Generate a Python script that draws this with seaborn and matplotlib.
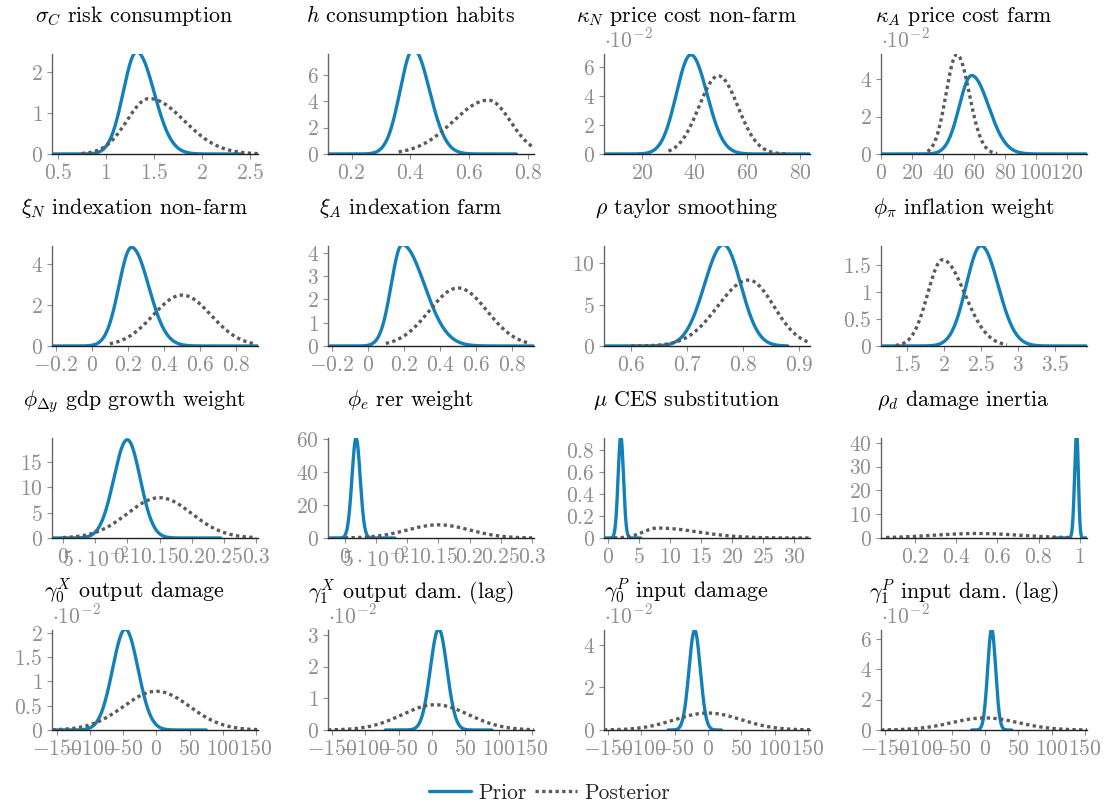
import numpy as np
import pandas as pd
import matplotlib
matplotlib.use("Agg")
import matplotlib.pyplot as plt
import seaborn as sns
from matplotlib.lines import Line2D

# panel titles (row by row)
titles = [r"$\sigma_C$ risk consumption", r"$h$ consumption habits",
          r"$\kappa_N$ price cost non-farm", r"$\kappa_A$ price cost farm",
          r"$\xi_N$ indexation non-farm", r"$\xi_A$ indexation farm",
          r"$\rho$ taylor smoothing", r"$\phi_\pi$ inflation weight",
          r"$\phi_{\Delta y}$ gdp growth weight", r"$\phi_e$ rer weight",
          r"$\mu$ CES substitution", r"$\rho_d$ damage inertia",
          r"$\gamma_0^X$ output damage", r"$\gamma_1^X$ output dam. (lag)",
          r"$\gamma_0^P$ input damage", r"$\gamma_1^P$ input dam. (lag)"]

# prior curves (solid blue): mode, left spread, right spread, drawn range
prior_mode = [1.32, 0.41, 38.5, 58.5, 0.22, 0.19, 0.765, 2.5, 0.10, 0.018, 2.1, 0.985, -47, 10, -20, 10]
prior_sl = [0.14, 0.045, 5.5, 8.0, 0.07, 0.06, 0.034, 0.20, 0.021, 0.0066, 0.43, 0.010, 19.2, 12.5, 8.5, 6.0]
prior_sr = [0.18, 0.055, 6.15, 11.0, 0.095, 0.123, 0.031, 0.23, 0.020, 0.0066, 0.43, 0.008, 19.2, 12.5, 8.5, 6.0]
prior_lo = [0.44, 0.12, 5.5, 0, -0.22, -0.22, 0.551, 1.15, -0.017, -0.027, -0.6, 0.87, -157, -70, -60, -20]
prior_hi = [2.42, 0.76, 83.8, 133, 0.92, 0.92, 0.88, 3.93, 0.245, 0.08, 5.3, 1.035, 75, 90, 20, 40]

# posterior curves (dotted grey)
post_mode = [1.45, 0.665, 49, 49, 0.5, 0.5, 0.81, 1.98, 0.15, 0.15, 8.0, 0.5, 0, 5, 0, 0]
post_sl = [0.23, 0.12, 7.4, 7.0, 0.16, 0.16, 0.055, 0.20, 0.05, 0.05, 2.3, 0.21, 50, 50, 50, 50]
post_sr = [0.36, 0.075, 7.4, 8.0, 0.16, 0.16, 0.045, 0.30, 0.05, 0.05, 6.5, 0.21, 50, 50, 50, 50]
post_lo = [0.75, 0.36, 30, 30, 0.10, 0.10, 0.60, 1.35, 0.0, 0.0, 1.0, 0.06, -157, -156, -156, -156]
post_hi = [2.58, 0.82, 76, 75, 0.90, 0.90, 0.93, 2.85, 0.30, 0.30, 32.5, 0.95, 153, 153, 153, 153]

# axis limits
x_lims = [(0.44, 2.58), (0.12, 0.82), (5.5, 83.8), (0, 133),
          (-0.22, 0.92), (-0.22, 0.92), (0.551, 0.92), (1.15, 3.93),
          (-0.017, 0.303), (-0.027, 0.303), (-0.6, 32.5), (0.035, 1.035),
          (-157.5, 153), (-156, 153), (-156, 153), (-156, 153)]
y_tops = [2.44, 7.6, 0.069, 0.0535, 4.9, 4.3, 12.1, 1.85,
          19.8, 60.5, 0.91, 42, 0.0206, 0.0316, 0.047, 0.066]

# tick values
x_ticks = [[0.5, 1, 1.5, 2, 2.5], [0.2, 0.4, 0.6, 0.8], [20, 40, 60, 80], [0, 20, 40, 60, 80, 100, 120],
           [-0.2, 0, 0.2, 0.4, 0.6, 0.8], [-0.2, 0, 0.2, 0.4, 0.6, 0.8], [0.6, 0.7, 0.8, 0.9], [1.5, 2, 2.5, 3, 3.5],
           [0, 0.05, 0.1, 0.15, 0.2, 0.25, 0.3], [0, 0.05, 0.1, 0.15, 0.2, 0.25, 0.3],
           [0, 5, 10, 15, 20, 25, 30], [0.2, 0.4, 0.6, 0.8, 1],
           [-150, -100, -50, 0, 50, 100, 150], [-150, -100, -50, 0, 50, 100, 150],
           [-150, -100, -50, 0, 50, 100, 150], [-150, -100, -50, 0, 50, 100, 150]]
y_ticks = [[0, 1, 2], [0, 2, 4, 6], [0, 2, 4, 6], [0, 2, 4],
           [0, 2, 4], [0, 1, 2, 3, 4], [0, 5, 10], [0, 0.5, 1, 1.5],
           [0, 5, 10, 15], [0, 20, 40, 60], [0, 0.2, 0.4, 0.6, 0.8], [0, 10, 20, 30, 40],
           [0, 0.5, 1, 1.5, 2], [0, 1, 2, 3], [0, 2, 4], [0, 2, 4, 6]]
# y values shown as multiples of 10^-2 in these panels
y_scaled = [False, False, True, True, False, False, False, False,
            False, False, False, False, True, True, True, True]

blue = "#1380BA"
grey = "#5a5a5a"
tick_grey = "#8f8f8f"


def split_normal(x, mode, sl, sr):
    amp = np.sqrt(2 / np.pi) / (sl + sr)
    s = np.where(x < mode, sl, sr)
    return amp * np.exp(-0.5 * ((x - mode) / s) ** 2)


def fmt(v):
    if v == 0.05:
        return r"$5\cdot10^{-2}$"
    return "$%g$" % v


sns.set_style("ticks")
plt.rcParams["font.family"] = ["cmr10", "DejaVu Serif"]
plt.rcParams["mathtext.fontset"] = "cm"
plt.rcParams["axes.formatter.use_mathtext"] = True

fig = plt.figure(figsize=(11.04, 8.05), dpi=100)
W, H = 1104, 805
col_left = [52, 328, 604, 881]
row_top = [54, 246, 438, 630]
aw, ah = 206, 100

for i in range(16):
    r, c = divmod(i, 4)
    ax = fig.add_axes([col_left[c] / W, 1 - (row_top[r] + ah) / H, aw / W, ah / H])

    xp = np.linspace(prior_lo[i], prior_hi[i], 400)
    xq = np.linspace(post_lo[i], post_hi[i], 400)
    df = pd.concat([
        pd.DataFrame({"x": xp, "density": split_normal(xp, prior_mode[i], prior_sl[i], prior_sr[i]),
                      "series": "Prior"}),
        pd.DataFrame({"x": xq, "density": split_normal(xq, post_mode[i], post_sl[i], post_sr[i]),
                      "series": "Posterior"}),
    ], ignore_index=True)
    sns.lineplot(data=df, x="x", y="density", hue="series", style="series",
                 palette={"Prior": blue, "Posterior": grey},
                 dashes={"Prior": "", "Posterior": (1, 1)},
                 linewidth=2.4, legend=False, ax=ax, sort=False, estimator=None)

    ax.set_xlim(*x_lims[i])
    ax.set_ylim(0, y_tops[i])
    ax.set_xlabel("")
    ax.set_ylabel("")

    ax.set_xticks(x_ticks[i])
    ax.set_xticklabels([fmt(v) for v in x_ticks[i]])
    yt = y_ticks[i]
    if y_scaled[i]:
        ax.set_yticks([v / 100 for v in yt])
        ax.text(0.0, 1.07, r"$\cdot10^{-2}$", transform=ax.transAxes, ha="left",
                va="baseline", fontsize=15.5, color=tick_grey)
    else:
        ax.set_yticks(yt)
    ax.set_yticklabels([fmt(v) for v in yt])

    ax.tick_params(axis="both", labelsize=15.5, labelcolor=tick_grey, color=tick_grey,
                   length=3.5, width=0.8, pad=3)
    sns.despine(ax=ax)
    ax.spines["left"].set_color("#666666")
    ax.spines["bottom"].set_color("#222222")
    ax.spines["left"].set_linewidth(1.0)
    ax.spines["bottom"].set_linewidth(1.0)

    ax.text(0.40, 1.32, titles[i], transform=ax.transAxes, ha="center",
            va="baseline", fontsize=15.8, color="black")

handles = [Line2D([], [], color=blue, lw=2.4),
           Line2D([], [], color=grey, lw=2.4, dashes=(1, 1))]
fig.legend(handles, ["Prior", "Posterior"], loc="center", bbox_to_anchor=(549.5 / W, 1 - 793 / H),
           ncol=2, frameon=False, fontsize=15.5, handlelength=1.95, handletextpad=0.35,
           columnspacing=0.35)

fig.savefig("out.png", dpi=100)
